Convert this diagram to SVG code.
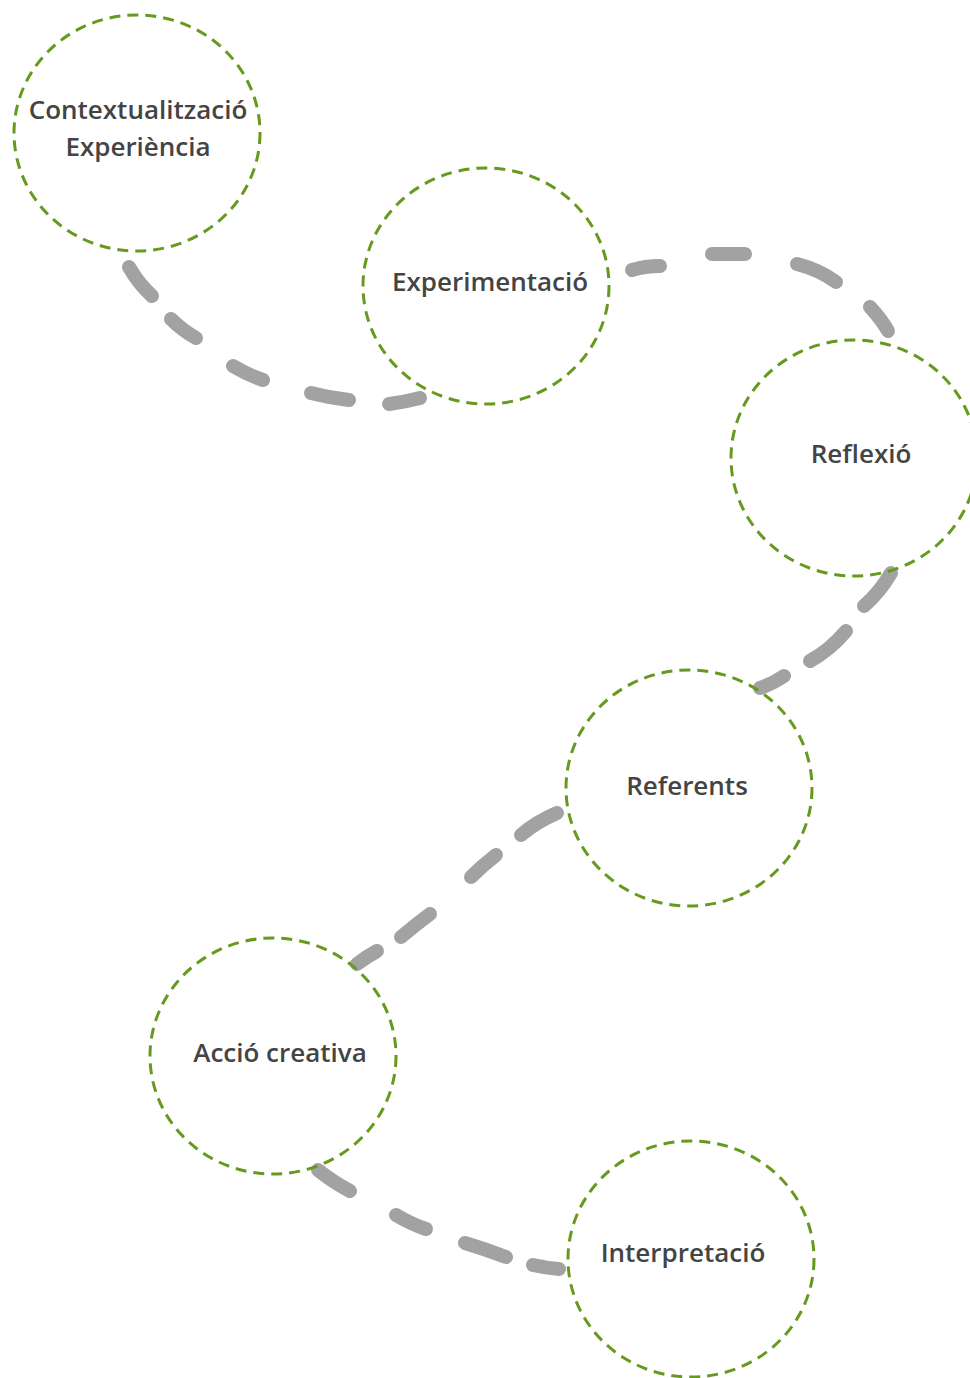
<svg xmlns="http://www.w3.org/2000/svg" width="970" height="1378" viewBox="0 0 970 1378">
<style>
.c{fill:none;stroke:#669a1e;stroke-width:3;stroke-dasharray:11 7}
.t{font-family:"Open Sans","DejaVu Sans",sans-serif;font-weight:600;font-size:26px;fill:#444;text-anchor:middle}
.d{fill:none;stroke:#a2a2a2;stroke-width:14;stroke-linecap:round}
</style>
<rect width="970" height="1378" fill="#fff"/>
<g id="connectors">
<path class="d" d="M129,267 Q138,283 152,296"/>
<path class="d" d="M171,319 Q182,330 196,338"/>
<path class="d" d="M233,366 Q248,375 263,380"/>
<path class="d" d="M311,393 Q330,398 349,400"/>
<path class="d" d="M389,404 Q405,402 420,398"/>
<path class="d" d="M632,270 Q645,266 660,266"/>
<path class="d" d="M712,254 L745,254"/>
<path class="d" d="M797,264 Q820,270 836,282"/>
<path class="d" d="M870,307 Q882,320 888,331"/>
<path class="d" d="M891,573 Q880,592 864,606"/>
<path class="d" d="M846,631 Q830,650 810,661"/>
<path class="d" d="M784,676 Q772,684 760,688"/>
<path class="d" d="M557,813 Q536,822 521,835"/>
<path class="d" d="M496,855 Q482,866 471,877"/>
<path class="d" d="M430,914 Q414,926 401,937"/>
<path class="d" d="M377,951 Q366,957 357,964"/>
<path class="d" d="M318,1170 Q333,1182 350,1191"/>
<path class="d" d="M396,1215 Q411,1224 426,1229"/>
<path class="d" d="M465,1243 Q485,1249 506,1257"/>
<path class="d" d="M533,1265 Q546,1268 559,1269"/>
</g>
<g id="n1"><ellipse class="c" cx="137" cy="133" rx="123" ry="118"/><text class="t" x="138" y="119">Contextualització</text><text class="t" x="138" y="156">Experiència</text></g>
<g id="n2"><ellipse class="c" cx="486" cy="286" rx="123" ry="118"/><text class="t" x="490" y="291">Experimentació</text></g>
<g id="n3"><ellipse class="c" cx="854" cy="458" rx="123" ry="118"/><text class="t" x="861" y="463">Reflexió</text></g>
<g id="n4"><ellipse class="c" cx="689" cy="788" rx="123" ry="118"/><text class="t" x="687" y="795">Referents</text></g>
<g id="n5"><ellipse class="c" cx="273" cy="1056" rx="123" ry="118"/><text class="t" x="280" y="1062">Acció creativa</text></g>
<g id="n6"><ellipse class="c" cx="691" cy="1259" rx="123" ry="118"/><text class="t" x="683" y="1262">Interpretació</text></g>
</svg>
